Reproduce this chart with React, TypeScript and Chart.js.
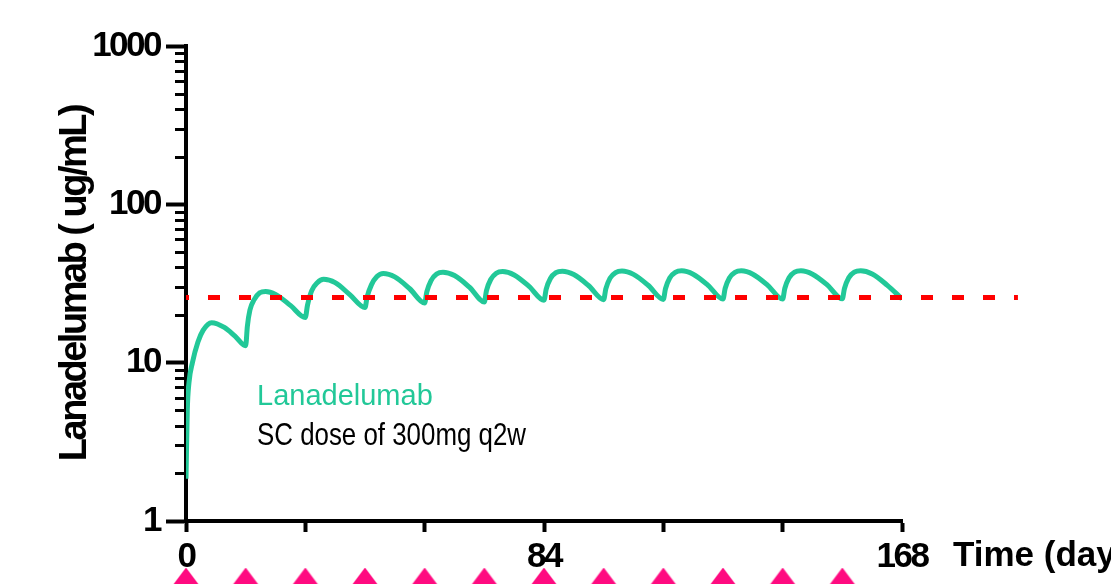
import React, { useEffect, useRef } from 'react';
import { Chart, registerables } from 'chart.js';
Chart.register(...registerables);

// Concentration profile (day, µg/mL)
const concDays = [
  0, 0.3, 0.7, 1.5, 2.8, 4, 6, 9, 11.5, 14,
  14.4, 15, 16, 17.3, 18.7, 21, 24.5, 28,
  28.5, 29.5, 30.8, 32.3, 35, 38.5, 42,
  42.5, 43.5, 44.8, 46.3, 49, 52.5, 56,
  56.5, 57.5, 58.8, 60.3, 63, 66.5, 70,
  70.5, 71.5, 72.8, 74.3, 77, 80.5, 84,
  84.5, 85.5, 86.8, 88.3, 91, 94.5, 98,
  98.5, 99.5, 100.8, 102.3, 105, 108.5, 112,
  112.5, 113.5, 114.8, 116.3, 119, 122.5, 126,
  126.5, 127.5, 128.8, 130.3, 133, 136.5, 140,
  140.5, 141.5, 142.8, 144.3, 147, 150.5, 154,
  154.5, 155.5, 156.8, 158.3, 161, 164.5, 168,
];
const concValues = [
  1.85, 5, 7.5, 10, 13.5, 16, 17.9, 16.7, 14.7, 12.8,
  17, 21.5, 25, 27.6, 28.2, 27, 23, 19.3,
  23, 28.5, 32, 33.6, 32, 26.8, 22.3,
  26, 31, 35, 36.6, 34.8, 29.3, 23.8,
  28, 33, 36.3, 37.3, 35.5, 30, 24.2,
  28.5, 33.5, 36.7, 37.6, 35.8, 30.3, 24.8,
  29, 34, 37, 37.8, 36, 30.6, 25,
  29.2, 34.2, 37.1, 37.9, 36.1, 30.7, 25.1,
  29.3, 34.3, 37.2, 38, 36.2, 30.8, 25.2,
  29.4, 34.3, 37.2, 38, 36.2, 30.8, 25.2,
  29.4, 34.4, 37.3, 38, 36.2, 30.9, 25.3,
  29.4, 34.4, 37.3, 38, 36.3, 30.9, 25.3,
];

// Dosing days (q2w) shown as triangles under the axis
const doseDays = [0, 14, 28, 42, 56, 70, 84, 98, 112, 126, 140, 154];
const doseMarkerLevel = 0.427;

// Threshold (dashed red line)
const thresholdDays = [0, 195.2];
const thresholdLevel = 25.8;

// Axis ticks
const xTickValues = [0, 28, 56, 84, 112, 140, 168];
const xTickLabels = ['0', '', '', '84', '', '', '168'];
const yMajorTicks = [1, 10, 100, 1000];
const yTickLabels = ['1', '10', '100', '1000'];
const yMinorTicks = [2, 3, 4, 5, 6, 7, 8, 9, 20, 30, 40, 50, 60, 70, 80, 90, 200, 300, 400, 500, 600, 700, 800, 900];

// Texts
const yTitle = 'Lanadelumab ( ug/mL)';
const xTitle = 'Time (days)';
const legendDrug = 'Lanadelumab';
const legendDose = 'SC dose of 300mg q2w';

const TEAL = '#22C898';
const MAGENTA = '#FF0A80';
const SANS = '"Liberation Sans", Arial, sans-serif';
const TIGHT = '-2.5px';

function makeTriangle(color: string): HTMLCanvasElement {
  const c = document.createElement('canvas');
  const w = 36;
  const h = 24;
  c.width = w;
  c.height = h;
  const g = c.getContext('2d')!;
  g.fillStyle = color;
  g.beginPath();
  g.moveTo(w / 2, 0);
  g.lineTo(w, h);
  g.lineTo(0, h);
  g.closePath();
  g.fill();
  return c;
}

export default function App() {
  const ref = useRef<HTMLCanvasElement>(null);

  useEffect(() => {
    document.body.style.margin = '0';
    const canvas = ref.current!;
    const triangle = makeTriangle(MAGENTA);

    const setTight = (chart: any) => {
      (chart.ctx as any).letterSpacing = TIGHT;
    };

    const extras = {
      id: 'extras',
      beforeUpdate: setTight,
      beforeLayout: setTight,
      beforeDraw: setTight,
      afterDatasetsDraw(chart: any) {
        // dose markers sit below the plotting area: draw them with an unbounded area
        const meta = chart.getDatasetMeta(2);
        const big = { left: -1e5, top: -1e5, right: 1e5, bottom: 1e5 };
        meta.data.forEach((el: any) => el.draw(chart.ctx, big));
      },
      afterDraw(chart: any) {
        const { ctx } = chart;
        const ys = chart.scales.y;
        ctx.save();
        ctx.strokeStyle = '#000';
        ctx.lineWidth = 3;
        yMinorTicks.forEach((v) => {
          const py = Math.round(ys.getPixelForValue(v)) + 0.5;
          ctx.beginPath();
          ctx.moveTo(ys.right - 11, py);
          ctx.lineTo(ys.right, py);
          ctx.stroke();
        });
        ctx.textAlign = 'left';
        ctx.textBaseline = 'alphabetic';
        ctx.letterSpacing = '0px';
        ctx.fillStyle = TEAL;
        ctx.font = `29px ${SANS}`;
        ctx.fillText(legendDrug, 257, 405);

        ctx.fillStyle = '#000';
        ctx.font = `32px ${SANS}`;
        const natural = ctx.measureText(legendDose).width;
        ctx.save();
        ctx.translate(257, 445);
        ctx.scale(269 / natural, 1);
        ctx.fillText(legendDose, 0, 0);
        ctx.restore();

        ctx.letterSpacing = '0px';
        ctx.font = `bold 35px ${SANS}`;
        ctx.fillText(xTitle, 953, 566);
        ctx.restore();
      },
    };

    const tickFont = { family: SANS, size: 35, weight: 'bold' as const };

    const chart = new Chart(canvas, {
      type: 'line',
      data: {
        datasets: [
          {
            label: 'Threshold',
            data: thresholdDays.map((d) => ({ x: d, y: thresholdLevel })),
            borderColor: '#FF0000',
            borderWidth: 5,
            borderDash: [12, 19],
            borderDashOffset: 9,
            pointRadius: 0,
            clip: false as any,
            order: 0,
          },
          {
            label: 'Lanadelumab',
            data: concDays.map((d, i) => ({ x: d, y: concValues[i] })),
            borderColor: TEAL,
            borderWidth: 5,
            pointRadius: 0,
            cubicInterpolationMode: 'monotone',
            order: 1,
          },
          {
            label: 'Dose',
            type: 'scatter',
            data: doseDays.map((d) => ({ x: d, y: doseMarkerLevel })),
            pointStyle: triangle,
            pointRadius: 18,
            pointHoverRadius: 18,
            backgroundColor: MAGENTA,
            borderColor: MAGENTA,
            borderWidth: 0,
            showLine: false,
            clip: false as any,
            order: 2,
          } as any,
        ],
      },
      options: {
        responsive: false,
        animation: false,
        devicePixelRatio: 1,
        events: [],
        layout: { padding: { left: 0, top: 46, right: 209, bottom: 0 } },
        plugins: { legend: { display: false }, tooltip: { enabled: false } },
        scales: {
          x: {
            type: 'linear',
            min: 0,
            max: 168,
            afterBuildTicks: (s: any) => {
              s.ticks = xTickValues.map((v) => ({ value: v }));
            },
            ticks: {
              callback: (v: any) => {
                const i = xTickValues.indexOf(Number(v));
                return i >= 0 ? xTickLabels[i] : '';
              },
              font: tickFont,
              color: '#000',
              padding: 4,
              maxRotation: 0,
              autoSkip: false,
            },
            grid: { drawOnChartArea: false, tickLength: 11, tickWidth: 4, tickColor: '#000' },
            border: { color: '#000', width: 4 },
            afterFit: (s: any) => {
              s.height = 63;
            },
          },
          y: {
            type: 'logarithmic',
            min: 1,
            max: 1000,
            afterBuildTicks: (s: any) => {
              s.ticks = yMajorTicks.map((v) => ({ value: v, major: true }));
            },
            ticks: {
              callback: (v: any) => {
                const i = yMajorTicks.indexOf(Number(v));
                return i >= 0 ? yTickLabels[i] : '';
              },
              font: tickFont,
              color: '#000',
              padding: 6,
              autoSkip: false,
            },
            grid: { drawOnChartArea: false, tickLength: 20, tickWidth: 4, tickColor: '#000' },
            border: { color: '#000', width: 4 },
            title: {
              display: true,
              text: yTitle,
              color: '#000',
              font: { family: SANS, size: 38, weight: 'bold' },
              padding: { top: 53, bottom: 0 },
            },
            afterFit: (s: any) => {
              s.width = 186;
            },
          },
        },
      },
      plugins: [extras],
    } as any);

    return () => chart.destroy();
  }, []);

  return (
    <div style={{ width: 1111, height: 584, background: '#fff' }}>
      <canvas ref={ref} width={1111} height={584} style={{ display: 'block' }} />
    </div>
  );
}
